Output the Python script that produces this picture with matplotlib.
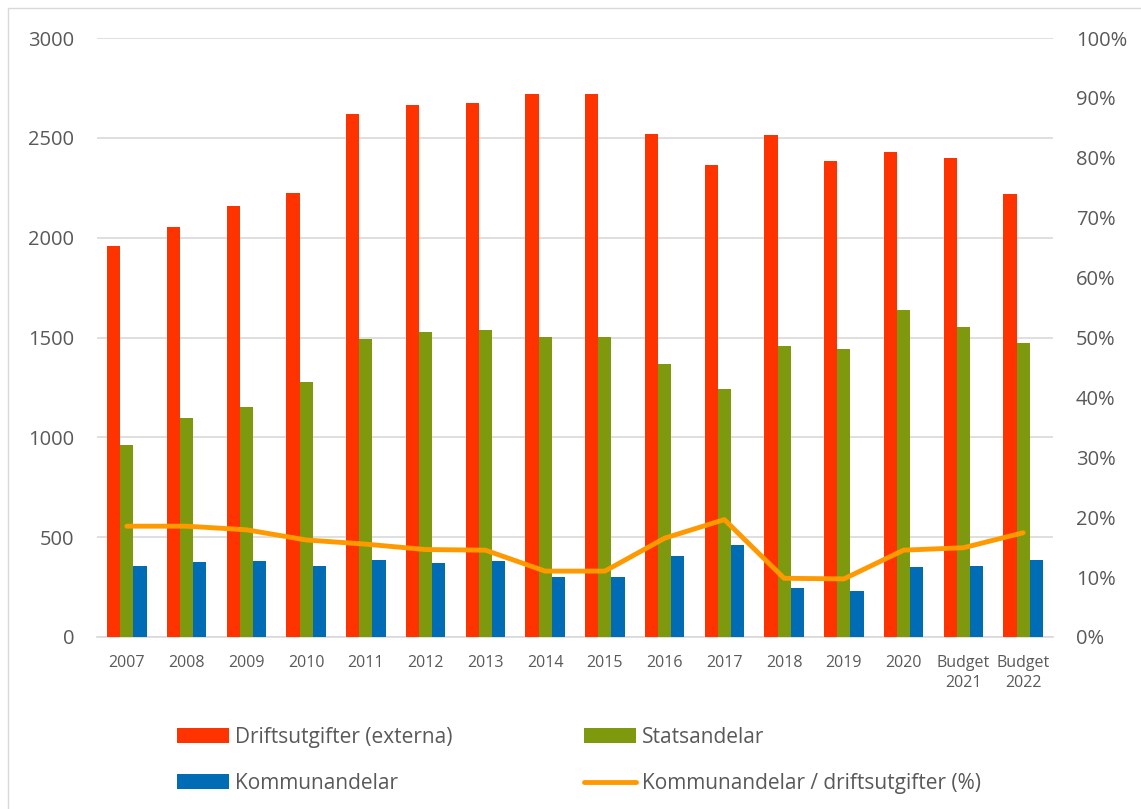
import matplotlib.pyplot as plt
import numpy as np
from matplotlib.patches import Rectangle

plt.rcParams['font.family'] = ['Open Sans', 'DejaVu Sans']

# data
years = ['2007', '2008', '2009', '2010', '2011', '2012', '2013', '2014',
         '2015', '2016', '2017', '2018', '2019', '2020', 'Budget\n2021', 'Budget\n2022']
drift = [1958, 2055, 2158, 2223, 2621, 2663, 2673, 2720,
         2720, 2518, 2363, 2515, 2383, 2427, 2400, 2220]
stat = [960, 1095, 1150, 1275, 1490, 1530, 1537, 1503,
        1503, 1365, 1240, 1455, 1440, 1638, 1553, 1472]
kommun = [358, 377, 383, 357, 387, 373, 383, 298,
          298, 408, 462, 243, 230, 350, 355, 385]
andel = [18.5, 18.5, 17.9, 16.2, 15.5, 14.6, 14.5, 11.0,
         11.0, 16.5, 19.6, 9.8, 9.7, 14.5, 14.9, 17.4]

red = '#FF3300'
green = '#7F990F'
blue = '#006CB5'
orange = '#FF9900'
grey = '#595959'

fig = plt.figure(figsize=(11.41, 8.09), dpi=100)
ax = fig.add_axes([97 / 1141, 1 - 637 / 809, (1053 - 97) / 1141, (637 - 38) / 809])
ax2 = ax.twinx()

x = np.arange(len(years))
w = 0.22
b1 = ax.bar(x - w, drift, w, color=red, zorder=3)
b2 = ax.bar(x, stat, w, color=green, zorder=3)
b3 = ax.bar(x + w, kommun, w, color=blue, zorder=3)
ln, = ax2.plot(x, andel, color=orange, lw=3.5,
               solid_capstyle='round', solid_joinstyle='round')

ax.set_xlim(-0.5, len(years) - 0.5)
ax.set_ylim(0, 3000)
ax.set_yticks(range(0, 3001, 500))
ax2.set_ylim(0, 100)
ax2.set_yticks(range(0, 101, 10))
ax2.set_yticklabels([f'{v}%' for v in range(0, 101, 10)])

ax.set_xticks(x)
ax.set_xticklabels(years, fontsize=11.5, color=grey, linespacing=1.3)
ax.tick_params(axis='x', length=0, pad=13)
ax.tick_params(axis='y', length=0, labelsize=14.5, labelcolor=grey, pad=16.5)
ax2.tick_params(axis='y', length=0, labelsize=14.5, labelcolor=grey, pad=16.5)

ax.grid(axis='y', color='#d9d9d9', lw=1.2, zorder=0)
for a in (ax, ax2):
    for s in a.spines.values():
        s.set_visible(False)
ax.spines['bottom'].set_visible(True)
ax.spines['bottom'].set_color('#d9d9d9')
ax.spines['bottom'].set_linewidth(1.2)

leg = fig.legend([b1, b3, b2, ln],
                 ['Driftsutgifter (externa)', 'Kommunandelar', 'Statsandelar',
                  'Kommunandelar / driftsutgifter (%)'],
                 ncol=2, loc='upper left', bbox_to_anchor=(158 / 1141, 1 - 708 / 809),
                 frameon=False, fontsize=15, labelcolor=grey, handlelength=2.5,
                 handleheight=0.67, handletextpad=0.3, columnspacing=6.3,
                 labelspacing=1.2)

# chart area border (left and top edges visible)
fig.patches.append(Rectangle((8 / 1141, -0.05), 1.1, 1 - 8 / 809 + 0.05,
                             transform=fig.transFigure, fill=False,
                             edgecolor='#d9d9d9', lw=1))

fig.savefig('out.png', dpi=100)
